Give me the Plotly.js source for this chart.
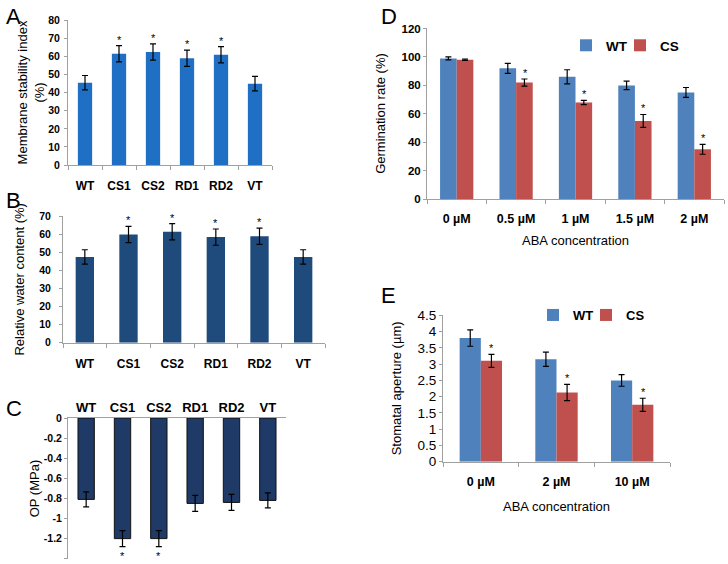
<!DOCTYPE html>
<html><head><meta charset="utf-8">
<script src="https://cdn.plot.ly/plotly-3.0.1.min.js"></script>
<style>html,body{margin:0;padding:0;background:#fff;overflow:hidden}#chart{width:728px;height:564px}</style>
</head><body><div id="chart"></div>
<script>
// ---- data ----
const lines = ['WT','CS1','CS2','RD1','RD2','VT'];
const msiVal = [45.5,61.5,62.5,59,61,45];
const msiErr = [4,4.5,4.5,4.5,4.5,4];
const msiSig = [false,true,true,true,true,false];
const rwcVal = [47.5,60,61.5,58.5,59,47.5];
const rwcErr = [4,4.5,4.5,4.5,4.5,4];
const rwcSig = [false,true,true,true,true,false];
const opVal = [-0.81,-1.2,-1.2,-0.85,-0.84,-0.82];
const opErr = [0.075,0.08,0.08,0.08,0.08,0.075];
const opSig = [false,true,true,false,false,false];
const opTicks = [0,-0.2,-0.4,-0.6,-0.8,-1,-1.2,-1.4];
const opTickText = ['0','-0.2','-0.4','-0.6','-0.8','-1','-1.2','-1.4'];
const germCat = ['0 µM','0.5 µM','1 µM','1.5 µM','2 µM'];
const germWT = [99,92,86,80,75];
const germWTErr = [1,3.5,5,3,3.5];
const germCS = [98,82,68,55,35];
const germCSErr = [0.5,2.5,1.5,4.5,3.5];
const germSig = [false,true,true,true,true];
const stomCat = ['0 µM','2 µM','10 µM'];
const stomWT = [3.8,3.15,2.5];
const stomWTErr = [0.25,0.22,0.18];
const stomCS = [3.1,2.13,1.75];
const stomCSErr = [0.2,0.25,0.2];
const stomSig = [true,true,true];

// ---- helpers ----
const W = 728, H = 564;
const dx = (a,b)=>[a/W,b/W];
const dy = (top,bot)=>[1-bot/H,1-top/H];
const F = '"Liberation Sans", Arial, sans-serif';
const eb = (arr)=>({type:'data',array:arr,visible:true,color:'#000',thickness:1.2,width:3});
const wtCol = '#4f81bd', csCol = '#c0504d';

const traces = [
  {type:'bar',x:lines,y:msiVal,error_y:eb(msiErr),marker:{color:'#1f6fc5'},width:0.42,xaxis:'x',yaxis:'y',showlegend:false},
  {type:'bar',x:lines,y:rwcVal,error_y:eb(rwcErr),marker:{color:'#1f4a7c'},width:0.42,xaxis:'x2',yaxis:'y2',showlegend:false},
  {type:'bar',x:lines,y:opVal,error_y:eb(opErr),marker:{color:'#1f3a66',line:{color:'#111',width:1}},width:0.45,xaxis:'x3',yaxis:'y3',showlegend:false},
  {type:'bar',name:'WT',x:germCat,y:germWT,error_y:eb(germWTErr),marker:{color:wtCol},xaxis:'x4',yaxis:'y4',legend:'legend'},
  {type:'bar',name:'CS',x:germCat,y:germCS,error_y:eb(germCSErr),marker:{color:csCol},xaxis:'x4',yaxis:'y4',legend:'legend2'},
  {type:'bar',name:'WT',x:stomCat,y:stomWT,error_y:eb(stomWTErr),marker:{color:wtCol},xaxis:'x5',yaxis:'y5',legend:'legend3'},
  {type:'bar',name:'CS',x:stomCat,y:stomCS,error_y:eb(stomCSErr),marker:{color:csCol},xaxis:'x5',yaxis:'y5',legend:'legend4'}
];

const ann = [];
function stars(xs, vals, errs, sig, xr, yr, shift, below){
  xs.forEach((c,i)=>{ if(!sig[i]) return;
    ann.push({x:c,y:below?vals[i]-errs[i]:vals[i]+errs[i],xref:xr,yref:yr,text:'*',showarrow:false,
      xshift:shift,yanchor:below?'top':'bottom',yshift:below?-1:-2,font:{family:F,size:11,color:'#000'}});
  });
}
stars(lines,msiVal,msiErr,msiSig,'x','y',0,false);
stars(lines,rwcVal,rwcErr,rwcSig,'x2','y2',0,false);
stars(lines,opVal,opErr,opSig,'x3','y3',0,true);
stars(germCat,germCS,germCSErr,germSig,'x4','y4',9,false);
stars(stomCat,stomCS,stomCSErr,stomSig,'x5','y5',11,false);
[['A',4,2],['B',4,186],['C',4,394],['D',379,2],['E',379,281]].forEach(p=>{
  ann.push({text:p[0],x:p[1]/W,y:1-p[2]/H,xref:'paper',yref:'paper',xanchor:'left',yanchor:'top',showarrow:false,
    font:{family:F,size:22,color:'#000'}});
});

const tickB = (s)=>({family:F,size:s,color:'#000',weight:'bold'});
const tickN = (s)=>({family:F,size:s,color:'#000'});
const xcat = (dom,extra)=>Object.assign({domain:dom,type:'category',showline:true,linecolor:'#a0a0a0',linewidth:1,
  ticks:'outside',tickson:'boundaries',ticklen:4,tickcolor:'#a0a0a0',showgrid:false,zeroline:false,automargin:false,
  fixedrange:true,tickangle:0},extra);
const ylin = (dom,extra)=>Object.assign({domain:dom,showline:true,linecolor:'#a0a0a0',linewidth:1,ticks:'outside',ticklen:3,
  tickcolor:'#a0a0a0',showgrid:false,zeroline:false,automargin:false,fixedrange:true},extra);
const tf = {family:F,size:13,color:'#000'};
const leg = (x,y,s)=>({orientation:'h',x:x/W,y:1-y/H,xanchor:'left',yanchor:'top',font:{family:F,size:s,weight:'bold'},
  bgcolor:'rgba(0,0,0,0)',itemwidth:30});
const pad = '\u00a0'.repeat(9);

const layout = {
  width:W,height:H,margin:{l:0,r:0,t:0,b:0,autoexpand:false},paper_bgcolor:'#fff',plot_bgcolor:'rgba(0,0,0,0)',
  font:{family:F,color:'#000'},barmode:'group',bargap:0.44,bargroupgap:0,showlegend:true,
  xaxis: xcat(dx(68,272),{anchor:'y',tickfont:tickB(12),ticklabelstandoff:10}),
  yaxis: ylin(dy(20,165),{anchor:'x',range:[0,80.2],dtick:10,tickfont:tickB(10.5),ticklabelstandoff:2,
    title:{text:'Membrane stability index<br>(%)',font:tf,standoff:0}}),
  xaxis2: xcat(dx(63,325),{anchor:'y2',tickfont:tickB(12),ticklabelstandoff:10}),
  yaxis2: ylin(dy(216,342.7),{anchor:'x2',range:[0,70.2],dtick:10,tickfont:tickB(10.5),ticklabelstandoff:6,
    title:{text:'Relative water content (%)'+pad,font:tf,standoff:11}}),
  xaxis3: xcat(dx(68,286),{anchor:'y3',side:'top',tickfont:tickB(13),ticks:''}),
  yaxis3: ylin(dy(418,559),{anchor:'x3',range:[-1.403,0],tickvals:opTicks,ticktext:opTickText,tickfont:tickB(10.5),
    title:{text:'OP (MPa)',font:tf,standoff:1}}),
  xaxis4: xcat(dx(427,724),{anchor:'y4',tickfont:tickB(12.5),ticklabelstandoff:8,
    title:{text:'ABA concentration',font:tf,standoff:10}}),
  yaxis4: ylin(dy(28,199),{anchor:'x4',range:[0,120.4],dtick:20,tickfont:tickB(11.5),
    title:{text:'Germination rate (%)',font:tf,standoff:12}}),
  xaxis5: xcat(dx(443,670),{anchor:'y5',tickfont:tickB(12.5),ticklabelstandoff:8,
    title:{text:'ABA concentration',font:tf,standoff:14}}),
  yaxis5: ylin(dy(315,461.7),{anchor:'x5',range:[0,4.51],dtick:0.5,tickfont:tickN(13.5),
    title:{text:'Stomatal aperture (µm)',font:tf,standoff:12}}),
  legend: leg(566,30,13.5),
  legend2: leg(620,30,13.5),
  legend3: leg(533,300,13),
  legend4: leg(586,300,13),
  annotations:ann
};
Plotly.newPlot('chart',traces,layout,{staticPlot:true,displayModeBar:false});
</script></body></html>
